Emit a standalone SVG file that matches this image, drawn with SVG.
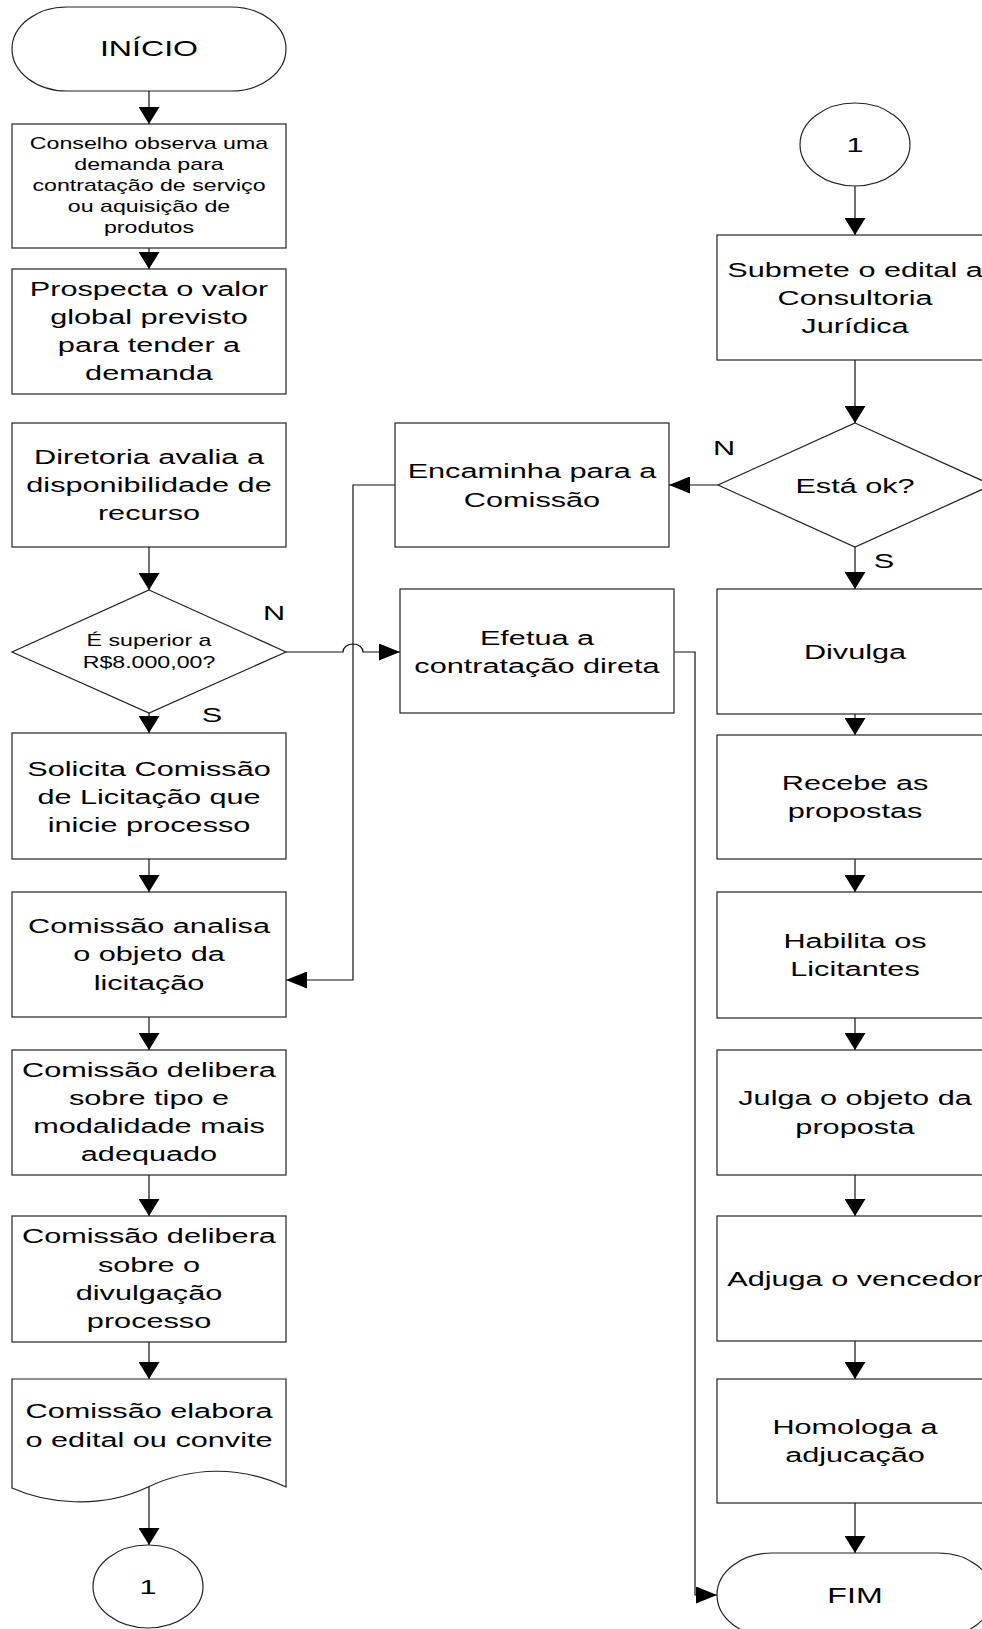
<svg xmlns="http://www.w3.org/2000/svg" width="982" height="1629" viewBox="0 0 982 1629">
<style>
.s{fill:#fff;stroke:#222;stroke-width:1.2}
.c{fill:none;stroke:#111;stroke-width:1.2}
text{font-family:"Liberation Sans",Arial,sans-serif;fill:#000;text-anchor:middle}
.f21{font-size:21px}
.f16{font-size:16px}
.f22{font-size:22px}
</style>
<defs>
<marker id="av" markerUnits="userSpaceOnUse" markerWidth="17" markerHeight="21" refX="17" refY="10.5" orient="auto"><path d="M0,0 L17,10.5 L0,21 z" fill="#000"/></marker>
<marker id="ah" markerUnits="userSpaceOnUse" markerWidth="21" markerHeight="17" refX="21" refY="8.5" orient="auto"><path d="M0,0 L21,8.5 L0,17 z" fill="#000"/></marker>
</defs>
<rect width="982" height="1629" fill="#fff"/>

<g id="connectors">
<path class="c" d="M149,91 V124" marker-end="url(#av)"/>
<path class="c" d="M149,248 V269" marker-end="url(#av)"/>
<path class="c" d="M149,547 V590" marker-end="url(#av)"/>
<path class="c" d="M149,713 V733" marker-end="url(#av)"/>
<path class="c" d="M149,859 V892" marker-end="url(#av)"/>
<path class="c" d="M149,1017 V1050" marker-end="url(#av)"/>
<path class="c" d="M149,1175 V1216" marker-end="url(#av)"/>
<path class="c" d="M149,1342 V1379" marker-end="url(#av)"/>
<path class="c" d="M149,1487 V1545" marker-end="url(#av)"/>
<path class="c" d="M855,186 V235" marker-end="url(#av)"/>
<path class="c" d="M855,360 V423" marker-end="url(#av)"/>
<path class="c" d="M855,547 V589" marker-end="url(#av)"/>
<path class="c" d="M855,714 V735" marker-end="url(#av)"/>
<path class="c" d="M855,859 V892" marker-end="url(#av)"/>
<path class="c" d="M855,1018 V1050" marker-end="url(#av)"/>
<path class="c" d="M855,1175 V1216" marker-end="url(#av)"/>
<path class="c" d="M855,1341 V1379" marker-end="url(#av)"/>
<path class="c" d="M855,1503 V1553" marker-end="url(#av)"/>
<path class="c" d="M718,485 H669" marker-end="url(#ah)"/>
<path class="c" d="M395,485 H353 V980 H286" marker-end="url(#ah)"/>
<path class="c" d="M286,652 H343 A10,8 0 0 1 363,652 H400" marker-end="url(#ah)"/>
<path class="c" d="M674,652 H695 V1595 H717" marker-end="url(#ah)"/>
</g>

<g id="n_inicio">
<rect class="s" x="12" y="7" width="274" height="84" rx="55" ry="42"/>
<text class="f22" transform="translate(149 0) scale(1.46 1)" x="0" y="56">INÍCIO</text>
</g>
<g id="n_conselho">
<rect class="s" x="12" y="124" width="274" height="124"/>
<text class="f16" transform="translate(149 0) scale(1.45 1)"><tspan x="0" y="149">Conselho observa uma</tspan><tspan x="0" y="170">demanda para</tspan><tspan x="0" y="191">contratação de serviço</tspan><tspan x="0" y="212">ou aquisição de</tspan><tspan x="0" y="233">produtos</tspan></text>
</g>
<g id="n_prospecta">
<rect class="s" x="12" y="269" width="274" height="125"/>
<text class="f21" transform="translate(149 0) scale(1.46 1)"><tspan x="0" y="296">Prospecta o valor</tspan><tspan x="0" y="324">global previsto</tspan><tspan x="0" y="352">para tender a</tspan><tspan x="0" y="380">demanda</tspan></text>
</g>
<g id="n_diretoria">
<rect class="s" x="12" y="423" width="274" height="124"/>
<text class="f21" transform="translate(149 0) scale(1.46 1)"><tspan x="0" y="464">Diretoria avalia a</tspan><tspan x="0" y="492">disponibilidade de</tspan><tspan x="0" y="520">recurso</tspan></text>
</g>
<g id="n_superior">
<polygon class="s" points="149,590 286,652 149,713 12,652"/>
<text class="f16" transform="translate(149 0) scale(1.45 1)"><tspan x="0" y="646">É superior a</tspan><tspan x="0" y="668">R$8.000,00?</tspan></text>
<text class="f21" transform="translate(274 0) scale(1.46 1)" x="0" y="620">N</text>
<text class="f21" transform="translate(212 0) scale(1.46 1)" x="0" y="722">S</text>
</g>
<g id="n_solicita">
<rect class="s" x="12" y="733" width="274" height="126"/>
<text class="f21" transform="translate(149 0) scale(1.46 1)"><tspan x="0" y="776">Solicita Comissão</tspan><tspan x="0" y="804">de Licitação que</tspan><tspan x="0" y="832">inicie processo</tspan></text>
</g>
<g id="n_analisa">
<rect class="s" x="12" y="892" width="274" height="125"/>
<text class="f21" transform="translate(149 0) scale(1.46 1)"><tspan x="0" y="933">Comissão analisa</tspan><tspan x="0" y="961">o objeto da</tspan><tspan x="0" y="990">licitação</tspan></text>
</g>
<g id="n_delibera_tipo">
<rect class="s" x="12" y="1050" width="274" height="125"/>
<text class="f21" transform="translate(149 0) scale(1.46 1)"><tspan x="0" y="1077">Comissão delibera</tspan><tspan x="0" y="1105">sobre tipo e</tspan><tspan x="0" y="1133">modalidade mais</tspan><tspan x="0" y="1161">adequado</tspan></text>
</g>
<g id="n_delibera_divulgacao">
<rect class="s" x="12" y="1216" width="274" height="126"/>
<text class="f21" transform="translate(149 0) scale(1.46 1)"><tspan x="0" y="1243">Comissão delibera</tspan><tspan x="0" y="1272">sobre o</tspan><tspan x="0" y="1300">divulgação</tspan><tspan x="0" y="1328">processo</tspan></text>
</g>
<g id="n_elabora">
<path class="s" d="M12,1379 H286 V1487 C240,1465 190,1467 148,1487 C100,1510 45,1503 12,1488 Z"/>
<text class="f21" transform="translate(149 0) scale(1.46 1)"><tspan x="0" y="1418">Comissão elabora</tspan><tspan x="0" y="1447">o edital ou convite</tspan></text>
</g>
<g id="n_con_out">
<ellipse class="s" cx="148" cy="1586.5" rx="55" ry="41.5"/>
<text class="f21" transform="translate(148 0) scale(1.46 1)" x="0" y="1594">1</text>
</g>

<g id="n_encaminha">
<rect class="s" x="395" y="423" width="274" height="124"/>
<text class="f21" transform="translate(532 0) scale(1.46 1)"><tspan x="0" y="478">Encaminha para a</tspan><tspan x="0" y="507">Comissão</tspan></text>
</g>
<g id="n_efetua">
<rect class="s" x="400" y="589" width="274" height="124"/>
<text class="f21" transform="translate(537 0) scale(1.46 1)"><tspan x="0" y="645">Efetua a</tspan><tspan x="0" y="673">contratação direta</tspan></text>
</g>

<g id="n_con_in">
<ellipse class="s" cx="855" cy="144.5" rx="55" ry="41.5"/>
<text class="f21" transform="translate(855 0) scale(1.46 1)" x="0" y="152">1</text>
</g>
<g id="n_submete">
<rect class="s" x="717" y="235" width="276" height="125"/>
<text class="f21" transform="translate(855 0) scale(1.46 1)"><tspan x="0" y="277">Submete o edital a</tspan><tspan x="0" y="305">Consultoria</tspan><tspan x="0" y="333">Jurídica</tspan></text>
</g>
<g id="n_ok">
<polygon class="s" points="855,423 992,485 855,547 718,485"/>
<text class="f21" transform="translate(855 0) scale(1.46 1)" x="0" y="493">Está ok?</text>
<text class="f21" transform="translate(724 0) scale(1.46 1)" x="0" y="455">N</text>
<text class="f21" transform="translate(884 0) scale(1.46 1)" x="0" y="568">S</text>
</g>
<g id="n_divulga">
<rect class="s" x="717" y="589" width="276" height="125"/>
<text class="f21" transform="translate(855 0) scale(1.46 1)" x="0" y="659">Divulga</text>
</g>
<g id="n_recebe">
<rect class="s" x="717" y="735" width="276" height="124"/>
<text class="f21" transform="translate(855 0) scale(1.46 1)"><tspan x="0" y="790">Recebe as</tspan><tspan x="0" y="818">propostas</tspan></text>
</g>
<g id="n_habilita">
<rect class="s" x="717" y="892" width="276" height="126"/>
<text class="f21" transform="translate(855 0) scale(1.46 1)"><tspan x="0" y="948">Habilita os</tspan><tspan x="0" y="976">Licitantes</tspan></text>
</g>
<g id="n_julga">
<rect class="s" x="717" y="1050" width="276" height="125"/>
<text class="f21" transform="translate(855 0) scale(1.46 1)"><tspan x="0" y="1105">Julga o objeto da</tspan><tspan x="0" y="1134">proposta</tspan></text>
</g>
<g id="n_adjuga">
<rect class="s" x="717" y="1216" width="276" height="125"/>
<text class="f21" transform="translate(855 0) scale(1.46 1)" x="0" y="1286">Adjuga o vencedor</text>
</g>
<g id="n_homologa">
<rect class="s" x="717" y="1379" width="276" height="124"/>
<text class="f21" transform="translate(855 0) scale(1.46 1)"><tspan x="0" y="1434">Homologa a</tspan><tspan x="0" y="1462">adjucação</tspan></text>
</g>
<g id="n_fim">
<rect class="s" x="717" y="1553" width="276" height="84" rx="55" ry="42"/>
<text class="f22" transform="translate(855 0) scale(1.46 1)" x="0" y="1603">FIM</text>
</g>
</svg>
